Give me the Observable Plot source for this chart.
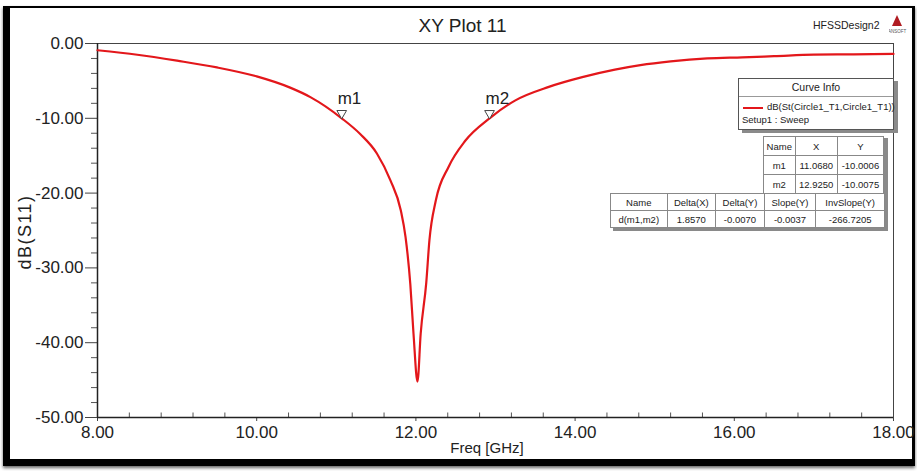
<!DOCTYPE html>
<html>
<head>
<meta charset="utf-8">
<script src="https://cdn.jsdelivr.net/npm/d3@7"></script>
<script src="https://cdn.jsdelivr.net/npm/@observablehq/plot@0.6"></script>
<style>
  html, body { margin: 0; padding: 0; background: #fff; }
  #wrap { position: relative; width: 917px; height: 471px; overflow: hidden; background: #fff;
          font-family: "Liberation Sans", Arial, sans-serif; color: #222; }
  #frame { position: absolute; left: 3px; top: 6px; width: 902px; height: 451px;
           border-top: 2px solid #000; border-right: 3px solid #000; border-left: 7px solid #000; border-bottom: 7px solid #000;
           box-shadow: 0 2px 3px rgba(0,0,0,0.6); pointer-events: none; }
  #plot { position: absolute; left: 0; top: 0; }
  .abs { position: absolute; white-space: nowrap; }
  #title { left: 0; width: 925px; top: 15px; text-align: center; font-size: 19px; }
  #design { left: 813px; top: 19px; font-size: 10.5px; }
  #ylab { left: 25px; top: 232px; font-size: 18px; letter-spacing: 1.5px;
          transform: translate(-50%, -50%) rotate(-90deg); }
  #xlab { left: 487px; top: 439px; transform: translateX(-50%); font-size: 15px; }
  .box { position: absolute; background: #fff; border: 1px solid #555; box-shadow: 4px 3px 0 #8a8a8a; }
  #curve { left: 738px; top: 78px; width: 154px; height: 50px; font-size: 9.5px; }
  #curve .hd { text-align: center; height: 17px; line-height: 17px; border-bottom: 1px solid #999; font-size: 10.5px; }
  #curve .ln { position: absolute; left: 4px; top: 28px; width: 20px; height: 0; border-top: 2px solid #e3171b; }
  #curve .t1 { position: absolute; left: 28px; top: 22px; }
  #curve .t2 { position: absolute; left: 3px; top: 35px; }
  table { border-collapse: collapse; font-size: 9.5px; position: absolute; background: #fff; }
  td { border: 1px solid #888; text-align: center; padding: 0; }
  #mtab { left: 763px; top: 136px; width: 121px; box-shadow: 4px 2px 0 #8a8a8a; }
  #mtab td { height: 18px; }
  #dtab { left: 610px; top: 193px; width: 275px; box-shadow: 3px 3px 0 #8a8a8a; }
  #dtab td { height: 16px; }
</style>
</head>
<body>
<div id="wrap">
  <div id="frame"></div>
  <div id="plot"></div>
  <div class="abs" id="title">XY Plot 11</div>
  <div class="abs" id="design">HFSSDesign2</div>
  <svg class="abs" style="left:889px;top:14px" width="20" height="22">
    <polygon points="8,1 3,12 13,12" fill="#b01c22"/>
    <text x="8" y="19" font-size="4.5" text-anchor="middle" fill="#555" font-family="Liberation Sans">ANSOFT</text>
  </svg>
  <div class="abs" id="ylab">dB(S11)</div>
  <div class="abs" id="xlab">Freq [GHz]</div>
  <div class="box" id="curve">
    <div class="hd">Curve Info</div>
    <div class="ln"></div>
    <div class="abs t1" id="curveName"></div>
    <div class="abs t2">Setup1 : Sweep</div>
  </div>
  <table id="mtab"></table>
  <table id="dtab"></table>
</div>
<script>
// ---- data ----
const freqGHz = [8.0, 8.5, 9.0, 9.5, 10.0, 10.42, 10.68, 11.068, 11.30, 11.51, 11.68, 11.81, 11.87, 11.93, 11.97,
                 12.02, 12.06, 12.13, 12.17, 12.25, 12.41, 12.62, 12.925, 13.25, 13.67, 14.09, 14.5, 14.82, 15.2,
                 15.66, 16.1, 16.5, 17.0, 17.5, 18.0];
const s11dB   = [-0.9, -1.5, -2.3, -3.2, -4.4, -5.9, -7.2, -10.0, -12.1, -14.7, -18.3, -22.3, -25.9, -32.2, -38.8,
                 -45.2, -38.8, -32.0, -26.3, -21.0, -16.5, -13.0, -10.0, -7.6, -5.8, -4.5, -3.5, -2.9, -2.4,
                 -2.0, -1.85, -1.7, -1.5, -1.45, -1.4];
const xTicks = [8, 10, 12, 14, 16, 18];
const yTicks = [0, -10, -20, -30, -40, -50];
const markerNames = ["m1", "m2"];
const markerX = [11.0680, 12.9250];
const markerY = [-10.0006, -10.0075];
const curveName = "dB(St(Circle1_T1,Circle1_T1))";
const deltaHeader = ["Name", "Delta(X)", "Delta(Y)", "Slope(Y)", "InvSlope(Y)"];
const deltaRow = ["d(m1,m2)", "1.8570", "-0.0070", "-0.0037", "-266.7205"];

const curve = freqGHz.map((f, i) => ({f, db: s11dB[i]}));
const markers = markerNames.map((n, i) => ({name: n, x: markerX[i], y: markerY[i]}));
const minorX = d3.range(8, 18.001, 0.4).map(v => +v.toFixed(2)).filter(v => !xTicks.includes(v));
const minorY = d3.range(-50, 0.001, 2).filter(v => v % 10 !== 0);
const fmt = d => d.toFixed(2);

const chart = Plot.plot({
  width: 917, height: 471,
  marginLeft: 97, marginRight: 24, marginTop: 43, marginBottom: 54,
  style: {fontFamily: '"Liberation Sans", Arial, sans-serif', background: "transparent", color: "#222", overflow: "visible"},
  x: {domain: [8, 18], label: null},
  y: {domain: [-50, 0], label: null},
  marks: [
    Plot.frame({stroke: "#444", strokeWidth: 1}),
    Plot.axisY({ticks: yTicks, tickFormat: fmt, tickSize: 12, tickPadding: 2, fontSize: 17, label: null, stroke: "#444"}),
    Plot.axisY({ticks: minorY, tickFormat: () => "", tickSize: 6, label: null, stroke: "#555"}),
    Plot.axisX({ticks: xTicks, tickFormat: fmt, tickSize: 4, tickPadding: 4, fontSize: 17, label: null, stroke: "#444"}),
    Plot.ruleX(minorX, {y1: -50, y2: -49.4, stroke: "#555"}),
    Plot.ruleY([-50], {stroke: "#222", strokeWidth: 1.5}),
    Plot.ruleX([8], {stroke: "#222", strokeWidth: 1.5}),
    Plot.line(curve, {x: "f", y: "db", stroke: "#e3171b", strokeWidth: 2.2, curve: "monotone-x"}),
    Plot.dot(markers, {x: "x", y: "y", symbol: "triangle", rotate: 180, r: 3.6, stroke: "#444", strokeWidth: 1, fill: "white", dy: -5}),
    Plot.text(markers, {x: "x", y: "y", text: "name", dx: -4, dy: -20, textAnchor: "start", fontSize: 17, fill: "#222"})
  ]
});
document.getElementById("plot").appendChild(chart);

document.getElementById("curveName").textContent = curveName;

const mtab = d3.select("#mtab");
const mh = mtab.append("tr");
["Name", "X", "Y"].forEach(h => mh.append("td").text(h));
markers.forEach(m => {
  const r = mtab.append("tr");
  r.append("td").text(m.name);
  r.append("td").text(m.x.toFixed(4));
  r.append("td").text(m.y.toFixed(4));
});
const dtab = d3.select("#dtab");
const dh = dtab.append("tr");
deltaHeader.forEach(h => dh.append("td").text(h));
const dr = dtab.append("tr");
deltaRow.forEach(v => dr.append("td").text(v));
</script>
</body>
</html>
